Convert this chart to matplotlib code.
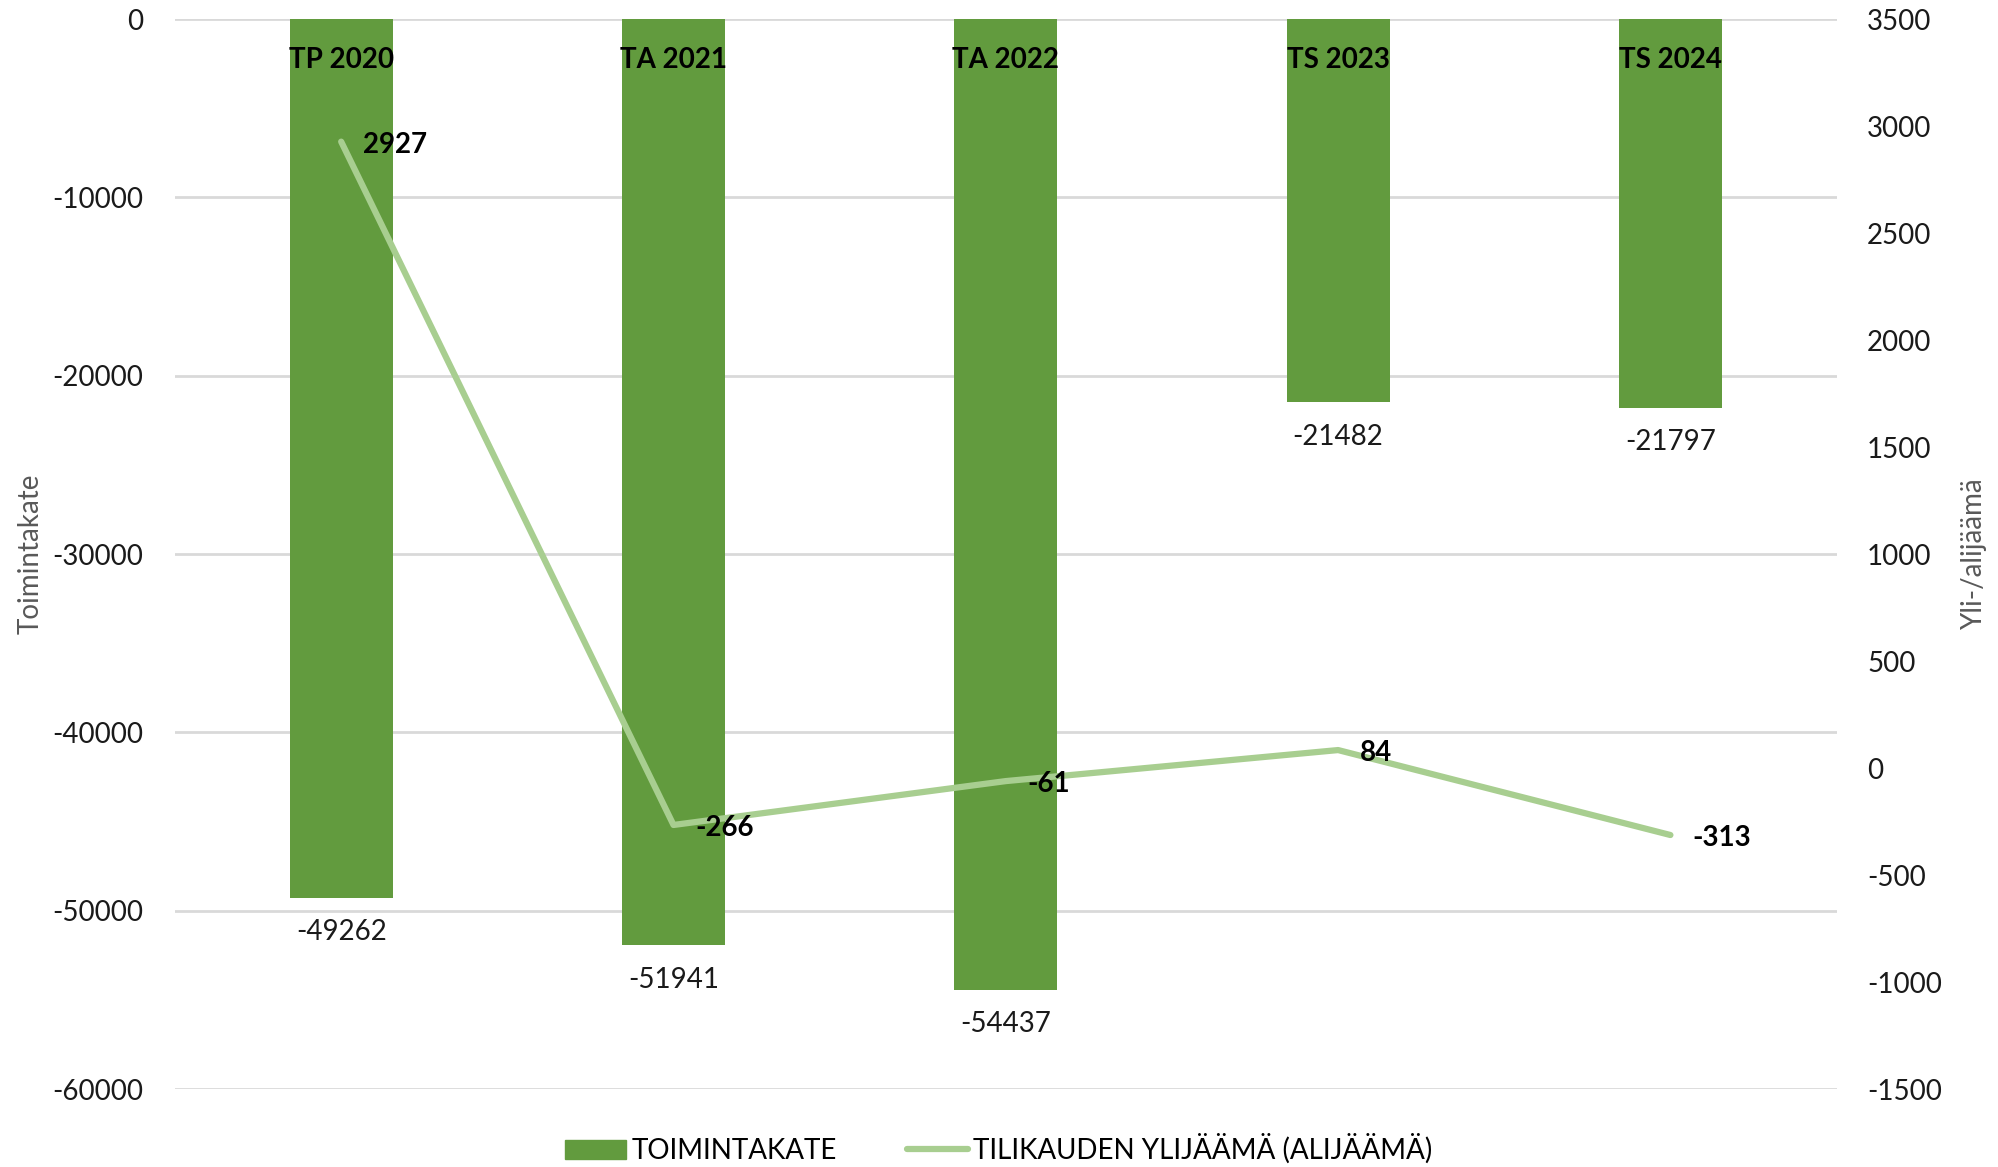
import matplotlib
matplotlib.use("Agg")
import matplotlib.pyplot as plt
from matplotlib.patches import Patch
from matplotlib.lines import Line2D

plt.rcParams['font.family'] = ['Lato', 'DejaVu Sans']
plt.rcParams['axes.unicode_minus'] = False

categories = ["TP 2020", "TA 2021", "TA 2022", "TS 2023", "TS 2024"]
toimintakate = [-49262, -51941, -54437, -21482, -21797]
ylijaama = [2927, -266, -61, 84, -313]

bar_color = "#629B3E"
line_color = "#A8CE90"

fig = plt.figure(figsize=(19.98, 11.67), dpi=100)
ax = fig.add_axes([0.0876, 0.0668, 0.8316, 0.9169])
ax2 = ax.twinx()

x = list(range(len(categories)))
ax.bar(x, toimintakate, width=0.31, color=bar_color, zorder=2)
ax.set_ylim(-60000, 0)
ax.set_xlim(-0.5, len(categories) - 0.5)
ax.set_yticks(range(-60000, 1, 10000))
ax.grid(axis='y', color='#D9D9D9', linewidth=2, zorder=0)
ax.set_axisbelow(True)
ax.set_xticks([])
ax.tick_params(axis='y', length=0, labelsize=20, pad=23, labelcolor='#1a1a1a')
ax.set_ylabel("Toimintakate", fontsize=20, color='#595959')
ax.yaxis.set_label_coords(-0.079, 0.5)

for xi, v, c in zip(x, toimintakate, categories):
    ax.text(xi, -2300, c, ha='center', va='center', fontsize=20, fontweight='bold', zorder=4)
    ax.text(xi, v - 1200, str(v), ha='center', va='top', fontsize=20, color='#1a1a1a', zorder=4)

ax2.plot(x, ylijaama, color=line_color, linewidth=4.5, solid_capstyle='round', zorder=3)
ax2.set_ylim(-1500, 3500)
ax2.set_yticks(range(-1500, 3501, 500))
ax2.tick_params(axis='y', length=0, labelsize=20, pad=22, labelcolor='#1a1a1a')
ax2.set_ylabel("Yli-/alijäämä", fontsize=20, color='#595959')
ax2.yaxis.set_label_coords(1.075, 0.5)
for xi, v in zip(x, ylijaama):
    ax2.annotate(str(v), (xi, v), xytext=(22, -3), textcoords='offset pixels',
                 ha='left', va='center', fontsize=20, fontweight='bold')

for a in (ax, ax2):
    for s in a.spines.values():
        s.set_visible(False)

handles = [Patch(color=bar_color, label="TOIMINTAKATE"),
           Line2D([0], [0], color=line_color, linewidth=4.5, solid_capstyle='round',
                  label="TILIKAUDEN YLIJÄÄMÄ (ALIJÄÄMÄ)")]
fig.legend(handles=handles, loc='center', bbox_to_anchor=(0.5, 0.0155), ncol=2,
           frameon=False, fontsize=20, handlelength=2.2, handletextpad=0.2, columnspacing=2.5)

fig.savefig("out.png", dpi=100)
